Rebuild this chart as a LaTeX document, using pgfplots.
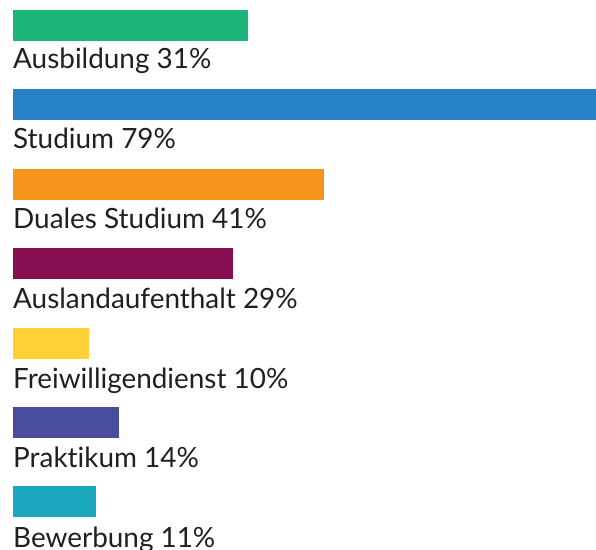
\documentclass[border=0pt]{standalone}
\usepackage{fontspec}
\setmainfont{Lato}[Ligatures={NoCommon}]
\usepackage{pgfplots}
\pgfplotsset{compat=1.18}
\definecolor{cA}{HTML}{1DB57A}
\definecolor{cB}{HTML}{2681C6}
\definecolor{cC}{HTML}{F7941E}
\definecolor{cD}{HTML}{880E52}
\definecolor{cE}{HTML}{FFD136}
\definecolor{cF}{HTML}{4A4C9E}
\definecolor{cG}{HTML}{1BA8BE}
\definecolor{txt}{HTML}{231F20}
\begin{document}
\begin{tikzpicture}
\begin{axis}[
  width=596bp, height=550bp, scale only axis, hide axis,
  xmin=-1.715, xmax=76.91, ymin=0, ymax=550, y dir=reverse,
  xbar, bar width=31, bar shift=0pt,
  every axis plot/.append style={draw=none},
]
\addplot[fill=cA] coordinates {(31,25.5)};
\addplot[fill=cB] coordinates {(79,104.8)};
\addplot[fill=cC] coordinates {(41,184.5)};
\addplot[fill=cD] coordinates {(29,263.5)};
\addplot[fill=cE] coordinates {(10,343.5)};
\addplot[fill=cF] coordinates {(14,422.5)};
\addplot[fill=cG] coordinates {(11,501.5)};
\end{axis}
\begin{axis}[
  width=596bp, height=550bp, scale only axis, hide axis, clip=false,
  xmin=-1.715, xmax=76.91, ymin=0, ymax=550, y dir=reverse,
]
\addplot[draw=none] coordinates {(0,0)};
\begin{scope}[every node/.style={anchor=base west, inner sep=0pt, font=\fontsize{28}{32}\selectfont, text=txt}]
\node at (axis cs:0,69) {Ausbildung 31\%};
\node at (axis cs:0,148.5) {Studium 79\%};
\node at (axis cs:0,228.5) {Duales Studium 41\%};
\node at (axis cs:0,308) {Auslandaufenthalt 29\%};
\node at (axis cs:0,388) {Freiwilligendienst 10\%};
\node at (axis cs:0,467.5) {Praktikum 14\%};
\node at (axis cs:0,547) {Bewerbung 11\%};
\end{scope}
\end{axis}
\pgfresetboundingbox
\path (current axis.south west) rectangle (current axis.north east);
\end{tikzpicture}
\end{document}
